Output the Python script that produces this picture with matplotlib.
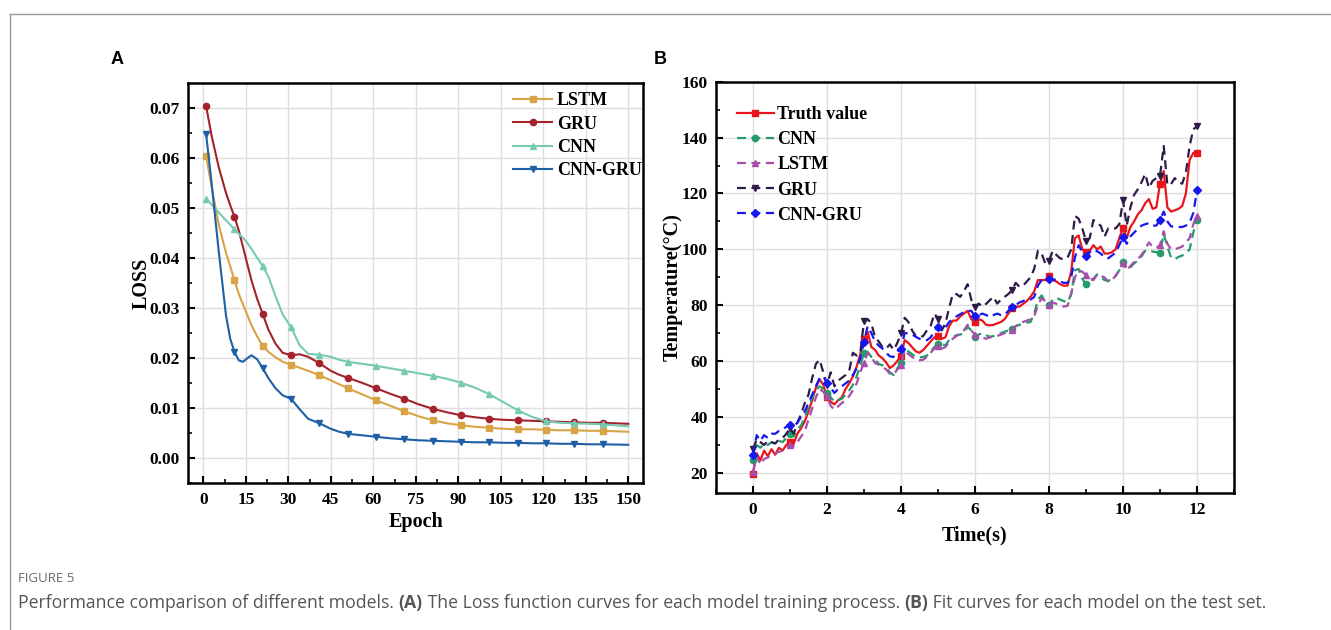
import numpy as np
import matplotlib
matplotlib.use("Agg")
import matplotlib.pyplot as plt
from matplotlib.lines import Line2D
from matplotlib.ticker import MultipleLocator

# ---------------- Panel A data (LOSS vs Epoch) ----------------
loss_epochs = [1, 3, 5.5, 8, 9.5, 11, 12.5, 14, 15.5, 17, 19, 21, 23, 25.5, 28, 31, 34, 37, 41,
               45, 48, 51, 56, 61, 66, 71, 76, 81, 86, 91, 96, 101, 106, 111, 116, 121, 126,
               131, 136, 141, 150]
marker_epochs = [1, 11, 21, 31, 41, 51, 61, 71, 81, 91, 101, 111, 121, 131, 141]

loss_lstm = [0.0603, 0.0540, 0.0465, 0.0410, 0.0383, 0.0355, 0.0328, 0.0307, 0.0286, 0.0265,
             0.0243, 0.0223, 0.0212, 0.0201, 0.0192, 0.0186, 0.0180, 0.0174, 0.0165, 0.0155,
             0.0147, 0.0139, 0.0127, 0.0115, 0.0104, 0.0093, 0.0083, 0.0075, 0.0069, 0.0065,
             0.0062, 0.0060, 0.0058, 0.0057, 0.0057, 0.0056, 0.0055, 0.0055, 0.0054, 0.0054,
             0.0052]
loss_gru = [0.0703, 0.0642, 0.0580, 0.0530, 0.0505, 0.0482, 0.0455, 0.0422, 0.0388, 0.0355,
            0.0318, 0.0287, 0.0256, 0.0228, 0.0210, 0.0205, 0.0207, 0.0202, 0.0189, 0.0174,
            0.0166, 0.0160, 0.0150, 0.0139, 0.0128, 0.0118, 0.0107, 0.0098, 0.0091, 0.0085,
            0.0081, 0.0078, 0.0076, 0.0075, 0.0074, 0.0073, 0.0072, 0.0071, 0.0070, 0.0070,
            0.0068]
loss_cnn = [0.0518, 0.0506, 0.0490, 0.0475, 0.0466, 0.0457, 0.0448, 0.0440, 0.0430, 0.0418,
            0.0400, 0.0383, 0.0362, 0.0323, 0.0287, 0.0261, 0.0225, 0.0208, 0.0206, 0.0202,
            0.0196, 0.0192, 0.0188, 0.0184, 0.0179, 0.0174, 0.0169, 0.0164, 0.0158, 0.0150,
            0.0140, 0.0127, 0.0111, 0.0095, 0.0082, 0.0073, 0.0070, 0.0069, 0.0068, 0.0067,
            0.0063]
loss_cnngru = [0.0647, 0.0545, 0.0410, 0.0285, 0.0238, 0.0212, 0.0195, 0.0192, 0.0199, 0.0205,
               0.0197, 0.0179, 0.0159, 0.0139, 0.0125, 0.0118, 0.0097, 0.0078, 0.0069, 0.0058,
               0.0052, 0.0048, 0.0045, 0.0042, 0.0039, 0.0037, 0.0035, 0.0034, 0.0033, 0.0032,
               0.0031, 0.0031, 0.0030, 0.0030, 0.0029, 0.0029, 0.0028, 0.0028, 0.0027, 0.0027,
               0.0026]

# ---------------- Panel B data (Temperature vs Time) ----------------
time_s = [round(0.1 * i, 1) for i in range(121)]
truth = [19.5, 27, 24.5, 28, 26, 28.5, 26.5, 29, 28, 30,
         31, 30.5, 34, 36, 38.5, 42, 46, 50.5, 53.5, 51.5,
         47, 45.5, 44.5, 46, 47, 50, 52, 54.5, 58, 62.5,
         68, 70.5, 65, 64, 62, 61, 59.5, 57.5, 58.5, 60,
         62, 67.5, 66.5, 65, 63.5, 63, 64, 65.5, 67, 68.5,
         69, 68, 68.5, 72.5, 74.5, 74.5, 76, 77, 78, 75,
         74, 75, 74.5, 73, 72.8, 73, 73.5, 74, 75, 77,
         79, 79.5, 79.5, 80.5, 81.5, 83, 85, 89, 89, 89,
         90.4, 89, 88.5, 87.5, 87, 87, 92, 104, 105, 100,
         99, 99.5, 101.5, 100, 101, 98.5, 98.5, 99, 100, 104,
         107.8, 104, 108, 110, 112.5, 114, 116.5, 118, 114.5, 115,
         123.5, 128, 115, 113.5, 114, 114.5, 115.5, 120, 132, 134.5,
         134.5]
cnn_pred = [24.5, 30, 29, 30.5, 30, 31, 30.5, 31.5, 31, 32.5,
            33.8, 33, 35.5, 37, 40, 43.5, 47, 49.5, 51, 50,
            48.6, 47, 45.6, 46, 46.5, 48, 49.5, 51.5, 54.5, 58.5,
            63, 63.3, 61.5, 60.5, 59, 58.5, 57.5, 56, 55, 57.5,
            59.2, 65, 63.5, 62.5, 61.5, 61.3, 61.5, 62, 63.5, 65,
            66.3, 66, 65.7, 67.5, 68.5, 69.3, 69.5, 70, 72.3, 71,
            68.7, 69.5, 70, 69.3, 68.7, 69, 69.5, 70, 70.5, 71,
            71.6, 72.5, 73, 73.4, 73.8, 74, 77, 82, 83.5, 81.5,
            80, 82, 82.7, 82, 81.5, 81, 84, 92.5, 93, 89.5,
            87.5, 88.5, 89.5, 91, 90, 89, 88.7, 89.5, 90.5, 92.5,
            95.5, 93, 93.5, 95, 96, 97.5, 99.5, 99.8, 99.2, 99,
            98.8, 105.5, 101, 97, 96.5, 97.3, 97.8, 98.5, 100, 106,
            110.6]
lstm_pred = [20.5, 26, 23, 25, 25.5, 26.5, 27, 27.5, 28, 28.5,
             30, 29.5, 31, 33, 35, 39, 43, 47, 50, 49,
             47.4, 44, 42.6, 43.8, 45, 46, 47.5, 49.5, 52, 56,
             59.5, 63, 61.5, 59.3, 58.7, 58, 57, 55.5, 55.2, 57,
             58.5, 64, 62.5, 61.5, 60.5, 60.3, 60.5, 61.5, 63, 64.5,
             65.5, 64.5, 65, 67, 68, 69, 70, 71, 73, 71,
             69.5, 69, 68.5, 68, 68.5, 68.7, 69, 69.5, 70, 70.5,
             71, 72.5, 73.5, 74, 74.5, 75, 76, 80, 82.5, 81.5,
             80.2, 81, 80.5, 80, 79.5, 79.8, 84, 90, 92.5, 92,
             90.8, 89.5, 89, 91, 90.5, 90, 88.5, 89, 90.5, 92.5,
             95, 92.5, 94, 95.5, 96.5, 98, 100, 102.5, 101, 100.5,
             101.5, 106.5, 102, 100, 100, 100.5, 101, 102.5, 104, 109,
             112]
gru_pred = [28.5, 32, 31, 30, 31.5, 31, 30.5, 32, 32.5, 34,
            36, 34, 38, 41, 45, 48, 54, 59, 60.5, 56,
            51.5, 56, 51, 53, 54, 55, 56.5, 63, 62, 63,
            74.3, 75, 73.5, 68.5, 67, 65, 64.5, 66, 64, 66.5,
            69.9, 75.5, 74, 71, 69, 68.5, 69, 71, 72.5, 77,
            75.2, 71, 73.5, 79, 84, 84, 83, 85, 87.5, 82,
            79.4, 80.6, 79.5, 80.5, 81.8, 83, 80.6, 82, 83, 84,
            85.4, 88, 86.6, 87, 88.5, 90, 93, 99.5, 98.5, 95,
            95.8, 99.5, 98, 96.8, 96.4, 97, 100, 112, 111, 107.5,
            103, 104, 110.5, 109.5, 108.4, 104.5, 107.5, 107.5, 107.5, 109,
            117.5, 108.5, 115, 119.5, 121.5, 124, 127, 122, 124.5, 125.5,
            126.3, 137, 123, 123.4, 125.5, 124, 123.5, 127.5, 137, 143,
            144]
cnngru_pred = [26.5, 33.5, 31.5, 33.5, 32.5, 34, 34, 35, 35.5, 36.5,
               37.3, 36.5, 38, 40, 42, 45, 48, 51, 54, 54.5,
               52.2, 50.5, 48.6, 50, 51, 52, 53, 55, 57.5, 61,
               67, 72.5, 70, 67, 65.5, 64.5, 63, 61.7, 61.5, 63.5,
               64.5, 70, 70, 69.5, 68.7, 68, 67.5, 67.5, 68.5, 70.5,
               72.3, 71, 72, 74, 75, 76, 76.8, 77.5, 78, 78,
               76, 76.5, 77, 76.5, 75.8, 76.5, 77, 76.5, 76.5, 78,
               79.4, 80, 81, 81.5, 82, 82, 83, 87, 89, 89,
               89.3, 89.3, 89, 88.5, 88, 88, 90, 97, 101.5, 99,
               97.6, 99, 100, 99.3, 98.5, 97, 96.8, 97.8, 98.8, 101.5,
               104.5, 102, 104.6, 106, 107.3, 108.5, 109, 109.4, 108.5, 108.5,
               110.5, 113.5, 110, 108.2, 108.2, 108, 108, 108.5, 109.5, 113,
               121.2]

# ---------------- Figure ----------------
plt.rcParams['font.family'] = ['Liberation Serif', 'DejaVu Serif']
plt.rcParams['font.weight'] = 'bold'
plt.rcParams['axes.labelweight'] = 'bold'

fig = plt.figure(figsize=(13.31, 6.30), dpi=100)
W, H = 1331, 630

def fx(px):
    return px / W

def fy(py):
    return 1 - py / H

# frame lines of the figure card
fig.add_artist(Line2D([fx(9.5), 1.0], [fy(13.5), fy(13.5)], color='#9a9a9a', lw=1.0))
fig.add_artist(Line2D([fx(9.5), fx(9.5)], [fy(13.5), 0.0], color='#9a9a9a', lw=1.0))

tick_fs = 12.5
label_fs = 14.5
leg_fs = 13

def style_axes(ax):
    for s in ax.spines.values():
        s.set_linewidth(1.8)
        s.set_color('black')
    ax.tick_params(which='both', direction='in', top=False, right=False)
    ax.tick_params(which='major', length=5, width=1.5, labelsize=tick_fs, pad=6)
    ax.tick_params(which='minor', length=3, width=1.2)
    ax.grid(True, which='major', color='#dedede', lw=1.0)
    ax.set_axisbelow(True)
    for lab in ax.get_xticklabels() + ax.get_yticklabels():
        lab.set_fontweight('bold')

# ---------- Panel A ----------
A_l, A_r, A_t, A_b = 188.3, 643.3, 83.3, 483.3
axA = fig.add_axes([fx(A_l), fy(A_b), fx(A_r) - fx(A_l), fy(A_t) - fy(A_b)])
midx = [loss_epochs.index(e) for e in marker_epochs]
series_A = [
    ('LSTM', loss_lstm, '#D9A445', 's'),
    ('GRU', loss_gru, '#A3222B', 'o'),
    ('CNN', loss_cnn, '#76C9B2', '^'),
    ('CNN-GRU', loss_cnngru, '#1F5FA5', 'v'),
]
for name, vals, col, mk in series_A:
    axA.plot(loss_epochs, vals, color=col, lw=1.5, marker=mk, ms=4.5,
             markevery=midx, label=name)
axA.set_xlim(-5.3, 155.3)
axA.set_ylim(-0.0051, 0.0749)
axA.xaxis.set_major_locator(MultipleLocator(15))
axA.xaxis.set_minor_locator(MultipleLocator(7.5))
axA.yaxis.set_major_locator(MultipleLocator(0.01))
axA.yaxis.set_minor_locator(MultipleLocator(0.005))
axA.yaxis.set_major_formatter(matplotlib.ticker.FormatStrFormatter('%.2f'))
style_axes(axA)
axA.set_xlabel('Epoch', fontsize=label_fs, fontweight='bold', labelpad=3)
axA.set_ylabel('LOSS', fontsize=label_fs, fontweight='bold')
axA.yaxis.set_label_coords((152 - A_l) / (A_r - A_l), 0.5)
axA.legend(loc='upper left', bbox_to_anchor=(0.714, 0.9775), frameon=False,
           prop={'size': leg_fs, 'weight': 'bold'}, handlelength=2.16,
           handletextpad=0.26, labelspacing=0.35, borderaxespad=0, borderpad=0)

# ---------- Panel B ----------
B_l, B_r, B_t, B_b = 716, 1234, 81.7, 493.3
axB = fig.add_axes([fx(B_l), fy(B_b), fx(B_r) - fx(B_l), fy(B_t) - fy(B_b)])
series_B = [
    ('Truth value', truth, '#E8161C', 's', '-'),
    ('CNN', cnn_pred, '#239B6B', 'o', (0, (4, 2.5))),
    ('LSTM', lstm_pred, '#A64FAA', '^', (0, (4, 2.5))),
    ('GRU', gru_pred, '#2E1B48', 'v', (0, (4, 2.5))),
    ('CNN-GRU', cnngru_pred, '#1717F0', 'D', (0, (4, 2.5))),
]
for name, vals, col, mk, ls in series_B:
    axB.plot(time_s, vals, color=col, lw=1.6, ls=ls, marker=mk, ms=4.5,
             markevery=10, label=name)
axB.set_xlim(-1, 13)
axB.set_ylim(12.7, 160)
axB.xaxis.set_major_locator(MultipleLocator(2))
axB.xaxis.set_minor_locator(MultipleLocator(1))
axB.yaxis.set_major_locator(MultipleLocator(20))
axB.yaxis.set_minor_locator(MultipleLocator(10))
style_axes(axB)
axB.set_xticks([0, 2, 4, 6, 8, 10, 12])
axB.set_yticks([20, 40, 60, 80, 100, 120, 140, 160])
axB.set_xlabel('Time(s)', fontsize=label_fs, fontweight='bold', labelpad=6)
axB.set_ylabel('Temperature(\u00b0C)', fontsize=label_fs, fontweight='bold')
axB.yaxis.set_label_coords((683 - B_l) / (B_r - B_l), 0.5)
axB.legend(loc='upper left', bbox_to_anchor=(0.04, 0.9404), frameon=False,
           prop={'size': leg_fs, 'weight': 'bold'}, handlelength=2.05,
           handletextpad=0.2, labelspacing=0.45, borderaxespad=0, borderpad=0)

# panel letters
fig.text(fx(117), fy(60), 'A', family='Liberation Sans', fontweight='bold',
         fontsize=13, ha='center', va='center')
fig.text(fx(660), fy(60), 'B', family='Liberation Sans', fontweight='bold',
         fontsize=13, ha='center', va='center')

# caption
cap_col = '#555555'
fig.text(fx(18), fy(578), 'FIGURE 5', family='Open Sans', fontweight='normal',
         fontsize=9.5, color='#6a6a6a', ha='left', va='center')

pieces = [
    ('Performance comparison of different models. ', 'normal'),
    ('(A)', 'bold'),
    (' The Loss function curves for each model training process. ', 'normal'),
    ('(B)', 'bold'),
    (' Fit curves for each model on the test set.', 'normal'),
]
renderer = fig.canvas.get_renderer()
xpos = 18.0
for txt, wt in pieces:
    t = fig.text(fx(xpos), fy(603), txt, family='Open Sans', fontweight=wt,
                 fontsize=12.7, color=cap_col, ha='left', va='center')
    bb = t.get_window_extent(renderer=renderer)
    xpos += bb.width

fig.savefig('out.png', dpi=100)
